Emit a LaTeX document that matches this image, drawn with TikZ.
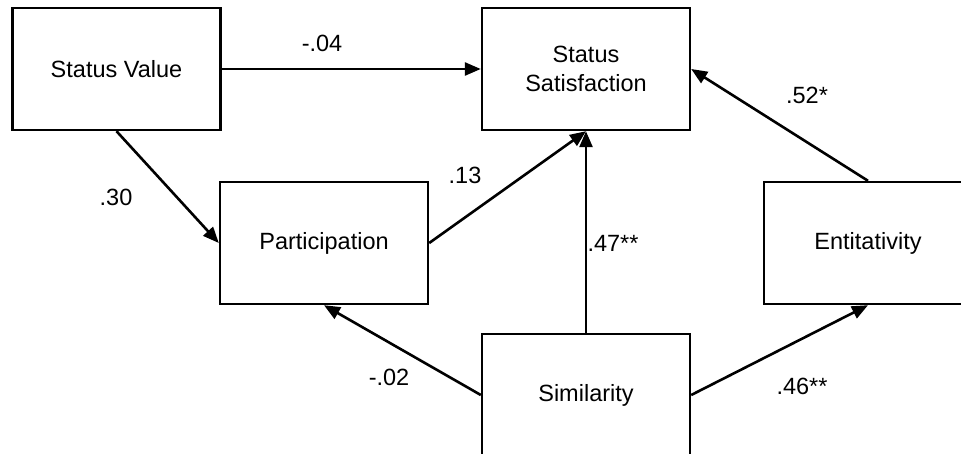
\documentclass[tikz,border=0pt]{standalone}
\usepackage{fontspec}
\setmainfont{Liberation Sans}
\usetikzlibrary{arrows.meta}

\begin{document}
\begin{tikzpicture}[x=1pt,y=-1pt,
        var/.style={draw,line width=2.4pt,minimum width=208pt,minimum height=122pt,
          align=center,font=\fontsize{23.5}{29}\selectfont},
        arr/.style={line width=2.6pt,-{Triangle[length=16pt,width=13pt]}},
        coef/.style={font=\fontsize{23.5}{29}\selectfont}]
        \useasboundingbox (0,0) rectangle (961,453);
        \node[var] (value) at (116.5,69) {Status Value};
        \node[var] (satis) at (586,69) {Status\\Satisfaction};
        \node[var] (part) at (324,243) {Participation};
        \node[var] (entit) at (868,243) {Entitativity};
        \node[var] (simil) at (586,395) {Similarity};
        \draw[arr] (value.east) -- (satis.west);
        \draw[arr] (value.south) -- (part.west);
        \draw[arr] (part.east) -- (satis.south);
        \draw[arr] (simil.north) -- (satis.south);
        \draw[arr] (entit.north) -- (satis.east);
        \draw[arr] (simil.west) -- (part.south);
        \draw[arr] (simil.east) -- (entit.south);
        \foreach \n/\x/\y/\t in {%
          a/322/43/{-.04},
          b/116/197/{.30},
          c/465/175/{.13},
          d/613/243/{.47**},
          e/807/95/{.52*},
          f/389/377/{-.02},
          g/802/386/{.46**}} {
            \node[coef] (coef\n) at (\x,\y) {\t};
        }
\end{tikzpicture}
\end{document}
